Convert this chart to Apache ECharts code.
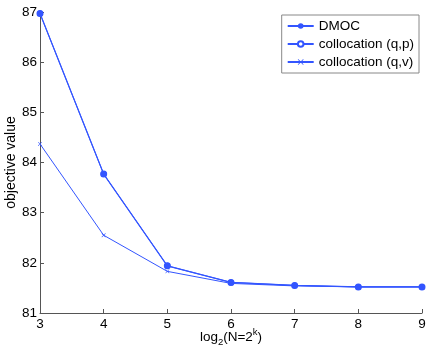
<!DOCTYPE html>
<html><head><meta charset="utf-8">
<script src="https://cdn.jsdelivr.net/npm/echarts@6/dist/echarts.min.js"></script>
<style>html,body{margin:0;padding:0;background:#fff}#c{width:432px;height:351px}</style>
</head><body><div id="c"></div>
<script>
const xValues = [3, 4, 5, 6, 7, 8, 9];
const dmoc = [86.97, 83.77, 81.94, 81.61, 81.55, 81.52, 81.52];
const collocQP = [86.97, 83.77, 81.94, 81.61, 81.55, 81.52, 81.52];
const collocQV = [84.37, 82.55, 81.83, 81.59, 81.54, 81.52, 81.52];
const seriesNames = ['DMOC', 'collocation (q,p)', 'collocation (q,v)'];

const color = '#3355ff';
const font = 'Liberation Sans, Arial, sans-serif';
const pair = (arr) => xValues.map((x, i) => [x, arr[i]]);
const xSym = 'path://M0,0L1,0L5,4L9,0L10,0L10,1L6,5L10,9L10,10L9,10L5,6L1,10L0,10L0,9L4,5L0,1Z';

const chart = echarts.init(document.getElementById('c'));
chart.setOption({
  animation: false,
  backgroundColor: '#fff',
  textStyle: { fontFamily: font },
  grid: { left: 40, right: 10, top: 12, bottom: 38, outerBoundsMode: 'none', containLabel: false },
  legend: {
    orient: 'vertical', right: 13, top: 15,
    backgroundColor: '#fff', borderColor: '#888', borderWidth: 1,
    padding: [4, 5, 4, 5], itemGap: 4, itemWidth: 26, itemHeight: 7,
    textStyle: { fontFamily: font, fontSize: 13.5, color: '#000', padding: [1, 0, 0, 0] },
    data: seriesNames
  },
  xAxis: {
    type: 'value', min: 3, max: 9, interval: 1,
    name: '{a|log}{s|2}{a|(N=2}{p|k}{a|)}', nameLocation: 'middle', nameGap: 14,
    nameMoveOverlap: false,
    nameTextStyle: { rich: {
      a: { fontSize: 13.5, fontFamily: font, color: '#000' },
      s: { fontSize: 9.5, fontFamily: font, color: '#000', padding: [10, 0, 0, 0] },
      p: { fontSize: 9.5, fontFamily: font, color: '#000', padding: [0, 0, 9, 0] }
    } },
    axisLine: { lineStyle: { color: '#555', width: 1 } },
    axisTick: { inside: true, length: 4, lineStyle: { color: '#555' } },
    axisLabel: { color: '#000', fontSize: 13.5, margin: 4, fontFamily: font },
    splitLine: { show: false }
  },
  yAxis: {
    type: 'value', min: 81, max: 87, interval: 1,
    name: 'objective value', nameLocation: 'middle', nameGap: 22, nameRotate: 90,
    nameMoveOverlap: false,
    nameTextStyle: { color: '#000', fontSize: 14, fontFamily: font },
    axisLine: { show: true, lineStyle: { color: '#555', width: 1 } },
    axisTick: { show: true, inside: true, length: 4, lineStyle: { color: '#555' } },
    axisLabel: { color: '#000', fontSize: 13.5, margin: 3, fontFamily: font },
    splitLine: { show: false }
  },
  series: [
    { name: seriesNames[1], type: 'line', data: pair(collocQP), color: color,
      symbol: 'emptyCircle', symbolSize: 5, lineStyle: { width: 1 }, itemStyle: { borderWidth: 1 } },
    { name: seriesNames[0], type: 'line', data: pair(dmoc), color: color,
      symbol: 'circle', symbolSize: 6, lineStyle: { width: 1.2 } },
    { name: seriesNames[2], type: 'line', data: pair(collocQV), color: color,
      symbol: xSym, symbolSize: 4, lineStyle: { width: 1 } }
  ]
});
</script></body></html>
